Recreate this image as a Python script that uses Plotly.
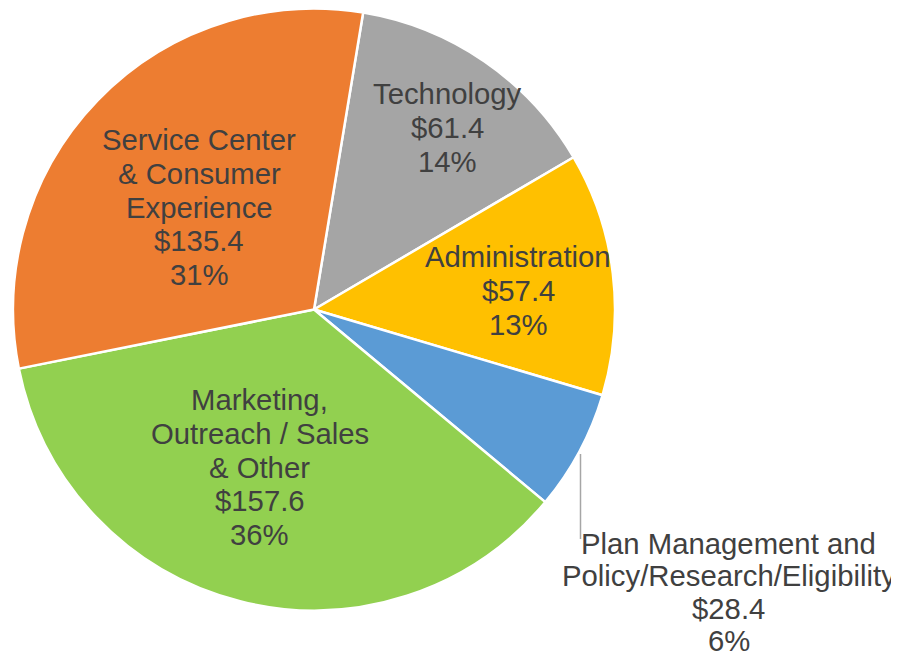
import plotly.graph_objects as go

# ---- data ----
categories = [
    "Technology",
    "Administration",
    "Plan Management and<br>Policy/Research/Eligibility",
    "Marketing,<br>Outreach / Sales<br>& Other",
    "Service Center<br>& Consumer<br>Experience",
]
values = [61.4, 57.4, 28.4, 157.6, 135.4]
colors = ["#A5A5A5", "#FFC000", "#5B9BD5", "#92D050", "#ED7D31"]

# ---- layout constants (pixels as seen on the page; page body adds an 8px offset) ----
W, H = 899, 659
OFF = 8
CX, CY, R = 314, 309.5, 301
# label block centers (x, y) and line pitch in page pixels
label_pos = [(447, 127.5), (518, 290.5), (728.5, 592), (259.5, 467), (199, 207)]
label_pitch = [33.8, 33.8, 32.5, 33.8, 33.8]
FONT = dict(family="Liberation Sans, Arial, sans-serif", size=29.3, color="#404040")

total = sum(values)


def px_x(x):
    return (x - OFF) / W


def px_y(y):
    return 1 - (y - OFF) / H


fig = go.Figure(
    go.Pie(
        labels=[c.replace("<br>", " ") for c in categories],
        values=values,
        sort=False,
        direction="clockwise",
        rotation=9.4,
        marker=dict(colors=colors, line=dict(color="white", width=2.5)),
        textinfo="none",
        hoverinfo="label+value+percent",
        showlegend=False,
        domain=dict(
            x=[px_x(CX - R), px_x(CX + R)],
            y=[px_y(CY + R), px_y(CY - R)],
        ),
    )
)

annotations = []
for cat, val, (px, py), pitch in zip(categories, values, label_pos, label_pitch):
    lines = cat.split("<br>") + [f"${val:.1f}", f"{round(val / total * 100)}%"]
    n = len(lines)
    for i, line in enumerate(lines):
        ly = py + (i - (n - 1) / 2) * pitch
        annotations.append(
            dict(
                x=px_x(px),
                y=px_y(ly),
                xref="paper",
                yref="paper",
                text=line,
                showarrow=False,
                xanchor="center",
                yanchor="middle",
                borderpad=0,
                font=FONT,
            )
        )

fig.update_layout(
    width=W,
    height=H,
    margin=dict(l=0, r=0, t=0, b=0),
    paper_bgcolor="white",
    plot_bgcolor="white",
    annotations=annotations,
    shapes=[
        dict(
            type="line",
            xref="paper",
            yref="paper",
            x0=px_x(580.5),
            x1=px_x(580.5),
            y0=px_y(454),
            y1=px_y(539),
            line=dict(color="#A6A6A6", width=1.5),
        )
    ],
)

fig.write_html("out.html")
